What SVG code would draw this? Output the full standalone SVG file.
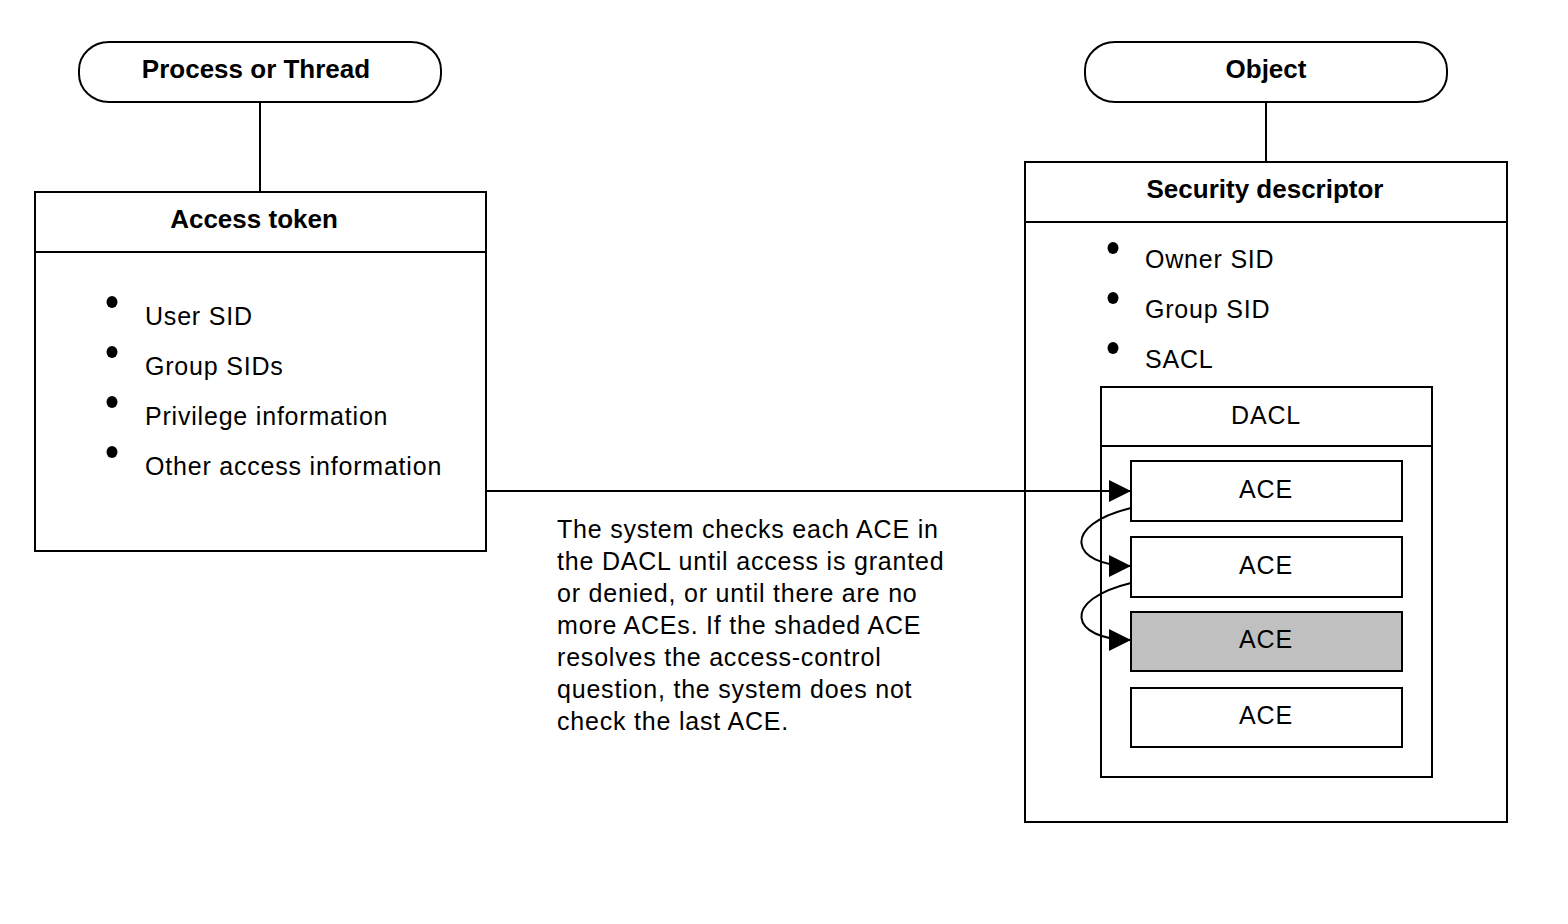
<svg xmlns="http://www.w3.org/2000/svg" width="1568" height="924" viewBox="0 0 1568 924">
<style>
.box{fill:#fff;stroke:#000;stroke-width:2}
.ln{fill:none;stroke:#000;stroke-width:2}
.t{font-family:"Liberation Sans",Arial,sans-serif;font-size:25px;fill:#000;letter-spacing:0.8px}
.b{font-family:"Liberation Sans",Arial,sans-serif;font-size:26px;font-weight:bold;fill:#000;text-anchor:middle}
.c{text-anchor:middle}
.dot{fill:#000}
</style>
<defs>
<marker id="ah" markerWidth="24" markerHeight="22" refX="22" refY="11" orient="auto" markerUnits="userSpaceOnUse">
<path d="M0,0 L22,11 L0,22 Z" fill="#000"/>
</marker>
</defs>
<rect width="1568" height="924" fill="#fff"/>
<g id="process">
<rect class="box" x="79" y="42" width="362" height="60" rx="30" ry="28"/>
<text class="b" x="256" y="78">Process or Thread</text>
</g>
<g id="access-token">
<rect class="box" x="35" y="192" width="451" height="359"/>
<line class="ln" x1="35" y1="252" x2="486" y2="252"/>
<text class="b" x="254" y="228">Access token</text>
<ellipse class="dot" cx="112" cy="302" rx="5.5" ry="6"/>
<ellipse class="dot" cx="112" cy="352" rx="5.5" ry="6"/>
<ellipse class="dot" cx="112" cy="402" rx="5.5" ry="6"/>
<ellipse class="dot" cx="112" cy="452" rx="5.5" ry="6"/>
<text class="t" x="145" y="325">User SID</text>
<text class="t" x="145" y="375">Group SIDs</text>
<text class="t" x="145" y="425">Privilege information</text>
<text class="t" x="145" y="475">Other access information</text>
</g>
<g id="object">
<rect class="box" x="1085" y="42" width="362" height="60" rx="30" ry="28"/>
<text class="b" x="1266" y="78">Object</text>
</g>
<g id="security-descriptor">
<rect class="box" x="1025" y="162" width="482" height="660"/>
<line class="ln" x1="1025" y1="222" x2="1507" y2="222"/>
<text class="b" x="1265" y="198">Security descriptor</text>
<ellipse class="dot" cx="1113" cy="248" rx="5.5" ry="6"/>
<ellipse class="dot" cx="1113" cy="298" rx="5.5" ry="6"/>
<ellipse class="dot" cx="1113" cy="348" rx="5.5" ry="6"/>
<text class="t" x="1145" y="268">Owner SID</text>
<text class="t" x="1145" y="318">Group SID</text>
<text class="t" x="1145" y="368">SACL</text>
</g>
<g id="dacl">
<rect class="box" x="1101" y="387" width="331" height="390"/>
<line class="ln" x1="1101" y1="446" x2="1432" y2="446"/>
<text class="t c" x="1266" y="424">DACL</text>
</g>
<g id="ace1"><rect class="box" x="1131" y="461" width="271" height="60"/><text class="t c" x="1266" y="498">ACE</text></g>
<g id="ace2"><rect class="box" x="1131" y="537" width="271" height="60"/><text class="t c" x="1266" y="574">ACE</text></g>
<g id="ace3"><rect class="box" x="1131" y="612" width="271" height="59" style="fill:#c0c0c0"/><text class="t c" x="1266" y="648">ACE</text></g>
<g id="ace4"><rect class="box" x="1131" y="688" width="271" height="59"/><text class="t c" x="1266" y="724">ACE</text></g>
<g id="note">
<text class="t" x="557" y="538">The system checks each ACE in</text>
<text class="t" x="557" y="570">the DACL until access is granted</text>
<text class="t" x="557" y="602">or denied, or until there are no</text>
<text class="t" x="557" y="634">more ACEs. If the shaded ACE</text>
<text class="t" x="557" y="666">resolves the access-control</text>
<text class="t" x="557" y="698">question, the system does not</text>
<text class="t" x="557" y="730">check the last ACE.</text>
</g>
<g id="connectors">
<line class="ln" x1="260" y1="102" x2="260" y2="192"/>
<line class="ln" x1="1266" y1="102" x2="1266" y2="162"/>
<line class="ln" x1="486" y1="491" x2="1131" y2="491" marker-end="url(#ah)"/>
<path class="ln" d="M1131,508 C1060,525 1070,566 1131,566" marker-end="url(#ah)"/>
<path class="ln" d="M1131,583 C1060,600 1070,640 1131,640" marker-end="url(#ah)"/>
</g>
</svg>
